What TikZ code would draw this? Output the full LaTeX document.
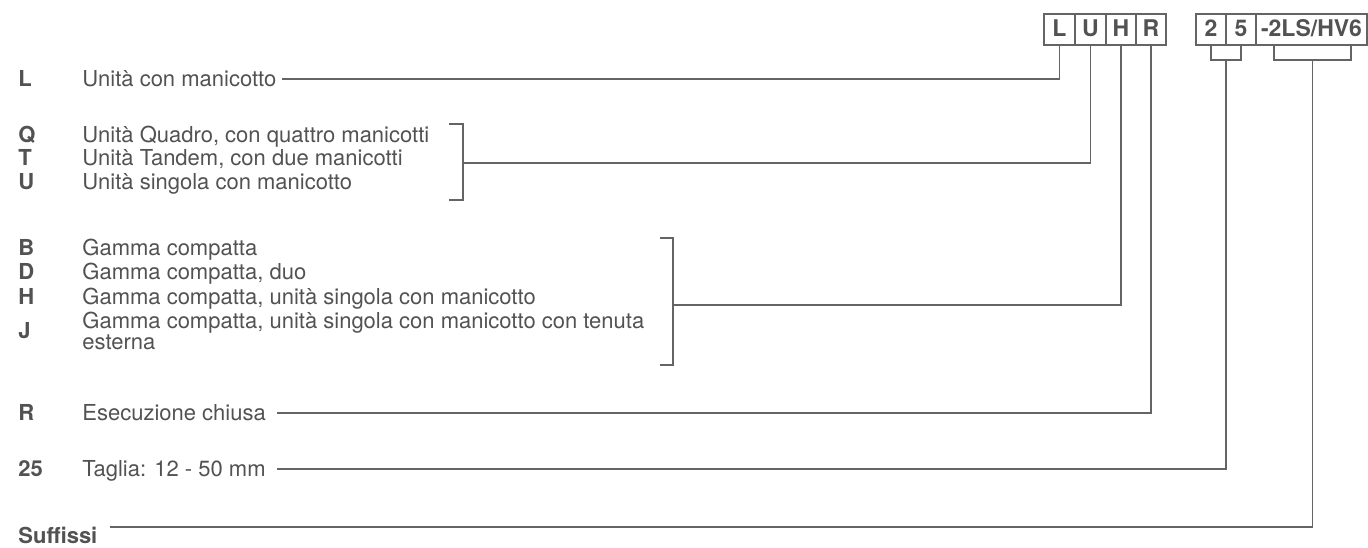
\documentclass[tikz,border=0pt]{standalone}
\usepackage{fontspec}
\setmainfont{TeX Gyre Heros}
\definecolor{txt}{RGB}{82,82,82}
\definecolor{ln}{RGB}{100,100,100}
\begin{document}
\begin{tikzpicture}[x=0.5pt,y=-0.5pt,
  lbl/.style={anchor=west,inner sep=0pt,font=\fontsize{11}{13}\selectfont\bfseries,text=txt,text height=0.72em,text depth=0pt},
  desc/.style={anchor=west,inner sep=0pt,font=\fontsize{11}{13}\selectfont,text=txt,text height=0.72em,text depth=0pt},
  cell/.style={draw=ln,line width=0.75pt,minimum height=15.5pt,inner sep=0pt,outer sep=0pt,font=\fontsize{11.5}{13}\selectfont\bfseries,text=txt,text height=0.72em,text depth=0pt},
  conn/.style={draw=ln,line width=0.75pt}]
\useasboundingbox (0,0) rectangle (1368,547);
% code boxes
\node[cell,minimum width=15.5pt] (bL) at (1059.5,29.5) {L};
\node[cell,minimum width=15.5pt] (bU) at (1090.5,29.5) {U};
\node[cell,minimum width=15pt] (bH) at (1121,29.5) {H};
\node[cell,minimum width=15pt] (bR) at (1151,29.5) {R};
\node[cell,minimum width=15pt] (b2) at (1211,29.5) {2};
\node[cell,minimum width=15pt] (b5) at (1241,29.5) {5};
\node[cell,minimum width=55.5pt] (bS) at (1311.5,29.5) {-2LS/HV6};
% labels
\node[lbl] (kL) at (18,79) {L};
\node[desc] (dL) at (82,79) {Unità con manicotto};
\node[lbl] (kQ) at (18,135) {Q};
\node[desc] (dQ) at (82,135) {Unità Quadro, con quattro manicotti};
\node[lbl] (kT) at (18,158.5) {T};
\node[desc] (dT) at (82,158.5) {Unità Tandem, con due manicotti};
\node[lbl] (kU) at (18,182) {U};
\node[desc] (dU) at (82,182) {Unità singola con manicotto};
\node[lbl] (kB) at (18,248) {B};
\node[desc] (dB) at (82,248) {Gamma compatta};
\node[lbl] (kD) at (18,272) {D};
\node[desc] (dD) at (82,272) {Gamma compatta, duo};
\node[lbl] (kH) at (18,297) {H};
\node[desc] (dH) at (82,297) {Gamma compatta, unità singola con manicotto};
\node[lbl] (kJ) at (18,331) {J};
\node[desc] (dJa) at (82,321) {Gamma compatta, unità singola con manicotto con tenuta};
\node[desc] (dJb) at (82,342) {esterna};
\node[lbl] (kR) at (18,413) {R};
\node[desc] (dR) at (82,413) {Esecuzione chiusa};
\node[lbl] (k25) at (18,469) {25};
\node[desc] (d25) at (82,469) {Taglia: 12 - 50 mm};
\node[lbl] (kS) at (18,536) {Suffissi};
% start points of connectors
\coordinate (sL) at (282,79);
\coordinate (sR) at (277,413);
\coordinate (s25) at (277,469);
\coordinate (sS) at (110,527);
% connectors
\draw[conn] (sL) -| (bL.south);
\draw[conn] (449,124) -- (463,124) -- (463,200) -- (449,200);
\draw[conn] (463,163) -| (bU.south);
\draw[conn] (660,238) -- (673,238) -- (673,365) -- (660,365);
\draw[conn] (673,305) -| (bH.south);
\draw[conn] (sR) -| (bR.south);
\draw[conn] (b2.south) -- ++(0,15) -| (b5.south);
\draw[conn] (b2.south east) ++(0,15) |- (s25);
\draw[conn] (1274,45) -- (1274,60) -- (1351,60) -- (1351,45);
\draw[conn] (1312.5,60) |- (sS);
\end{tikzpicture}
\end{document}
